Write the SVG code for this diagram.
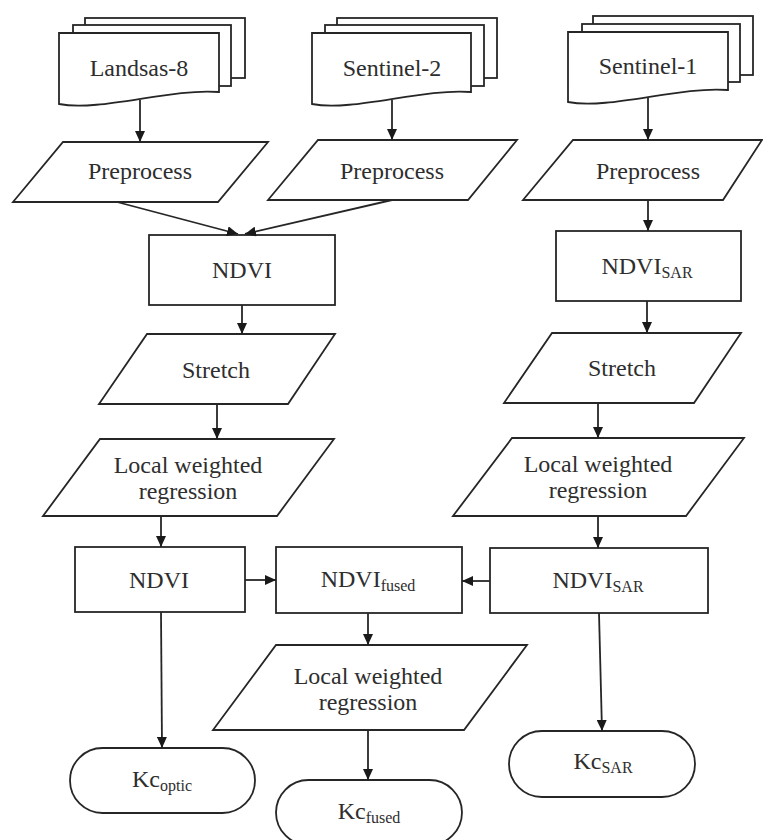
<svg xmlns="http://www.w3.org/2000/svg" width="763" height="840" viewBox="0 0 763 840">
<style>
.s{fill:#fff;stroke:#262626;stroke-width:1.8;stroke-linejoin:miter}
text{font-family:'Liberation Serif','DejaVu Serif',serif;font-size:24px;fill:#2e2e2e;text-anchor:middle}
.sub{font-size:16px}
.c{fill:none;stroke:#262626;stroke-width:1.8;marker-end:url(#ah)}
</style>
<defs>
<marker id="ah" markerUnits="userSpaceOnUse" markerWidth="11" markerHeight="10" refX="11" refY="5" orient="auto">
<path d="M0,0 L11,5 L0,10 Z" fill="#1a1a1a"/>
</marker>
</defs>
<rect width="763" height="840" fill="#fff"/>
<g id="landsat8">
<rect class="s" x="85" y="18" width="160" height="60"/>
<rect class="s" x="73" y="25" width="158" height="61"/>
<path class="s" d="M59,33 H219 V92 C170,88 100,112 59,104 Z"/>
<text x="139" y="76">Landsas-8</text>
</g>
<g id="sentinel2">
<rect class="s" x="337" y="18" width="160" height="60"/>
<rect class="s" x="325" y="25" width="159" height="61"/>
<path class="s" d="M312,33 H471 V92 C422,88 353,112 312,104 Z"/>
<text x="392" y="76">Sentinel-2</text>
</g>
<g id="sentinel1">
<rect class="s" x="593" y="16" width="160" height="59"/>
<rect class="s" x="582" y="24" width="158" height="58"/>
<path class="s" d="M568,32 H728 V90 C679,86 609,110 568,102 Z"/>
<text x="648" y="74">Sentinel-1</text>
</g>
<g id="preprocess1">
<polygon class="s" points="63,142 268,142 218,202 13,202"/>
<text x="140" y="179">Preprocess</text>
</g>
<g id="preprocess2">
<polygon class="s" points="318,140 517,140 468,200 268,200"/>
<text x="392" y="179">Preprocess</text>
</g>
<g id="preprocess3">
<polygon class="s" points="573,140 762,140 723,200 523,200"/>
<text x="648" y="179">Preprocess</text>
</g>
<g id="ndvi1">
<rect class="s" x="149" y="235" width="186" height="70"/>
<text x="242" y="278">NDVI</text>
</g>
<g id="ndvisar1">
<rect class="s" x="556" y="231" width="185" height="70"/>
<text x="647" y="274">NDVI<tspan class="sub" dy="4">SAR</tspan></text>
</g>
<g id="stretch1">
<polygon class="s" points="147,334 335,334 288,404 99,404"/>
<text x="216" y="378">Stretch</text>
</g>
<g id="stretch2">
<polygon class="s" points="552,333 741,333 694,403 504,403"/>
<text x="622" y="376">Stretch</text>
</g>
<g id="lwr1">
<polygon class="s" points="100,439 334,439 277,516 43,516"/>
<text x="188" y="473">Local weighted</text>
<text x="188" y="499">regression</text>
</g>
<g id="lwr2">
<polygon class="s" points="512,438 744,438 686,516 453,516"/>
<text x="598" y="472">Local weighted</text>
<text x="598" y="498">regression</text>
</g>
<g id="ndvi2">
<rect class="s" x="75" y="547" width="170" height="65"/>
<text x="159" y="588">NDVI</text>
</g>
<g id="ndvifused">
<rect class="s" x="276" y="547" width="186" height="66"/>
<text x="368" y="587">NDVI<tspan class="sub" dy="4">fused</tspan></text>
</g>
<g id="ndvisar2">
<rect class="s" x="490" y="548" width="218" height="65"/>
<text x="598" y="588">NDVI<tspan class="sub" dy="4">SAR</tspan></text>
</g>
<g id="lwr3">
<polygon class="s" points="276,645 527,645 464,730 213,730"/>
<text x="368" y="684">Local weighted</text>
<text x="368" y="710">regression</text>
</g>
<g id="kcoptic">
<rect class="s" x="70" y="748" width="185" height="65" rx="32.5" ry="32.5"/>
<text x="162" y="787">Kc<tspan class="sub" dy="4">optic</tspan></text>
</g>
<g id="kcsar">
<rect class="s" x="509" y="731" width="186" height="66" rx="33" ry="33"/>
<text x="603" y="769">Kc<tspan class="sub" dy="4">SAR</tspan></text>
</g>
<g id="kcfused">
<rect class="s" x="276" y="780" width="186" height="65" rx="32.5" ry="32.5"/>
<text x="369" y="819">Kc<tspan class="sub" dy="4">fused</tspan></text>
</g>
<g id="connectors">
<path class="c" d="M140,100 V142"/>
<path class="c" d="M392,100 V140"/>
<path class="c" d="M648,98 V140"/>
<path class="c" d="M117,202 L238,234"/>
<path class="c" d="M392,200 L245,234"/>
<path class="c" d="M648,200 V231"/>
<path class="c" d="M242,305 V334"/>
<path class="c" d="M647,301 V333"/>
<path class="c" d="M217,404 V439"/>
<path class="c" d="M598,403 V438"/>
<path class="c" d="M161,516 V547"/>
<path class="c" d="M598,516 V548"/>
<path class="c" d="M245,580 H276"/>
<path class="c" d="M490,581 H462"/>
<path class="c" d="M161,612 L162,748"/>
<path class="c" d="M368,613 V645"/>
<path class="c" d="M368,730 V780"/>
<path class="c" d="M599,613 L602,731"/>
</g>
</svg>
